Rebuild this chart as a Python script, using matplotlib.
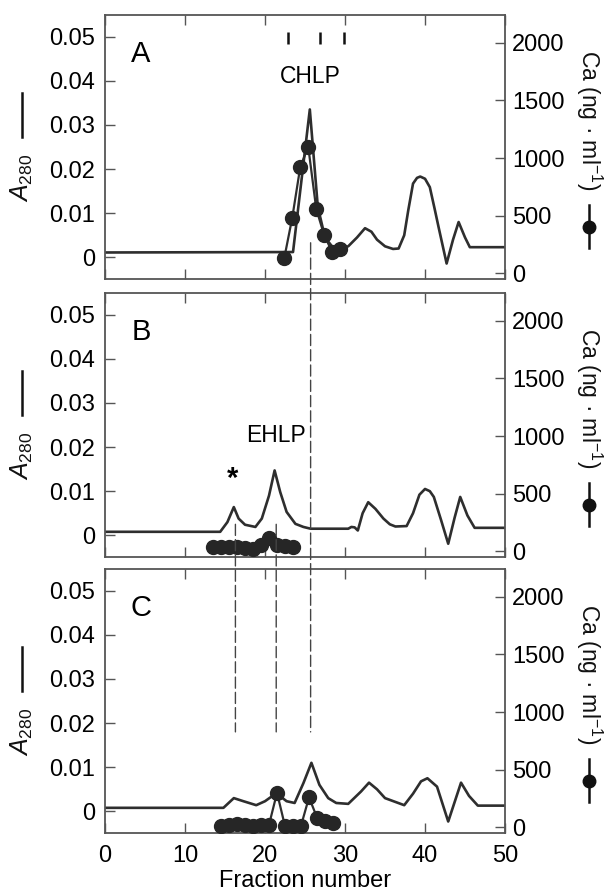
#!/usr/bin/env python3
"""Three stacked elution profiles: A280 trace with Ca content on a twin axis."""

import matplotlib.pyplot as plt
from matplotlib.patches import ConnectionPatch

plt.rcParams["font.family"] = ["Liberation Sans", "DejaVu Sans"]
plt.rcParams["mathtext.fontset"] = "custom"
plt.rcParams["mathtext.rm"] = "Liberation Sans"
plt.rcParams["mathtext.it"] = "Liberation Sans:italic"

# ---- data ------------------------------------------------------------------
# panel A
a280_frac_A = [0, 23.5, 25.6, 26.6, 27.5, 28.5, 29.5, 30.4, 31.5, 32.5, 33.3, 34.0,
               35.0, 36.0, 36.7, 37.4, 37.9, 38.5, 39.0, 39.4, 40.0, 40.6, 41.2, 41.7,
               42.7, 43.5, 44.2, 45.0, 45.6, 50]
a280_A = [0.0011, 0.0012, 0.0335, 0.0114, 0.0045, 0.0022, 0.0021, 0.0025, 0.0045,
          0.0066, 0.0058, 0.0040, 0.0025, 0.0019, 0.0020, 0.0050, 0.0106, 0.0167,
          0.0180, 0.0183, 0.0178, 0.0159, 0.0110, 0.0068, -0.0014, 0.0040, 0.0080,
          0.0045, 0.0023, 0.0023]
ca_frac_A = [22.4, 23.4, 24.4, 25.4, 26.4, 27.4, 28.4, 29.4]
ca_A = [130, 480, 920, 1100, 560, 330, 185, 210]

# panel B
a280_frac_B = [0, 14.4, 15.3, 16.1, 16.7, 17.5, 18.8, 19.6, 20.5, 21.2, 21.9, 22.7,
               23.8, 24.8, 25.7, 30.4, 30.8, 31.2, 31.6, 32.2, 32.9, 33.8, 34.8,
               35.6, 36.3, 37.7, 38.5, 39.3, 40.0, 40.6, 41.1, 42.0, 42.9, 43.7,
               44.4, 45.3, 46.2, 50]
a280_B = [0.0008, 0.0008, 0.0030, 0.0064, 0.0038, 0.0024, 0.0019, 0.0038, 0.0090,
          0.0147, 0.0098, 0.0053, 0.0026, 0.0019, 0.0015, 0.0015, 0.0019, 0.0018,
          0.0011, 0.0050, 0.0075, 0.0060, 0.0038, 0.0025, 0.0020, 0.0021, 0.0050,
          0.0092, 0.0105, 0.0100, 0.0087, 0.0035, -0.0019, 0.0040, 0.0087, 0.0045,
          0.0017, 0.0017]
ca_frac_B = [13.5, 14.5, 15.5, 16.5, 17.5, 18.5, 19.5, 20.5, 21.5, 22.5, 23.5]
ca_B = [38, 38, 38, 35, 30, 20, 55, 115, 55, 42, 38]

# panel C
a280_frac_C = [0, 14.8, 16.1, 17.3, 18.9, 20.0, 21.4, 22.7, 23.7, 24.8, 25.8, 26.8,
               27.9, 28.9, 30.4, 32.0, 33.0, 34.0, 35.0, 37.4, 38.5, 39.5, 40.3,
               41.5, 42.9, 44.5, 45.5, 46.6, 50]
a280_C = [0.0008, 0.0008, 0.0030, 0.0023, 0.0014, 0.0023, 0.0041, 0.0023, 0.0019,
          0.0064, 0.0110, 0.0060, 0.0030, 0.0019, 0.0017, 0.0045, 0.0065, 0.0050,
          0.0030, 0.0014, 0.0040, 0.0068, 0.0075, 0.0056, -0.0023, 0.0065, 0.0035,
          0.0013, 0.0013]
ca_frac_C = [14.5, 15.5, 16.5, 17.5, 18.5, 19.5, 20.5, 21.5, 22.5, 23.5, 24.5, 25.5,
             26.5, 27.5, 28.5]
ca_C = [14, 18, 25, 20, 14, 18, 22, 300, 10, 14, 14, 260, 85, 58, 35]

panel_letters = ["A", "B", "C"]
a280_ticks = [0, 0.01, 0.02, 0.03, 0.04, 0.05]
a280_ticklabels = ["0", "0.01", "0.02", "0.03", "0.04", "0.05"]
ca_ticks = [0, 500, 1000, 1500, 2000]
x_ticks = [0, 10, 20, 30, 40, 50]

chlp_marks = [22.9, 26.9, 29.9]          # fraction markers above CHLP
guide_A = 25.7                            # dashed guide running from A into C
guides_B = [16.3, 21.4]                   # dashed guides running from B into C

INK = "#2e2e2e"
SPINE = "#555555"


def style(ax, ax2):
    for sp in ax.spines.values():
        sp.set_color(SPINE)
        sp.set_linewidth(1.3)
    ax2.spines[:].set_visible(False)
    ax.set_xlim(0, 50)
    ax.set_ylim(-0.0049, 0.0549)
    ax2.set_ylim(-49, 2241)
    ax.set_xticks(x_ticks)
    ax.set_yticks(a280_ticks)
    ax.set_yticklabels(a280_ticklabels)
    ax2.set_yticks(ca_ticks)
    ax.tick_params(axis="both", direction="in", length=7, width=1, color=SPINE,
                   labelsize=17, top=True, bottom=True, right=False)
    ax.tick_params(axis="y", pad=7)
    ax.tick_params(axis="x", pad=9)
    ax2.tick_params(axis="y", direction="in", length=7, width=1, color=SPINE,
                    labelsize=17, pad=5)


def side_labels(ax):
    ax.text(-0.208, 0.385, r"$A_{280}$", rotation=90, transform=ax.transAxes,
            ha="center", va="center", fontsize=18, color="#111111")
    ax.plot([-0.208, -0.208], [0.538, 0.705], transform=ax.transAxes,
            clip_on=False, color="#111111", lw=1.8)
    ax.text(1.21, 0.6, "Ca (ng · ml$^{-1}$)", rotation=270, transform=ax.transAxes,
            ha="center", va="center", fontsize=16.5, color="#111111")
    ax.plot([1.21, 1.21], [0.117, 0.28], transform=ax.transAxes,
            clip_on=False, color="#111111", lw=1.8)
    ax.plot([1.21], [0.197], "o", transform=ax.transAxes, clip_on=False,
            color="#111111", ms=9)


fig = plt.figure(figsize=(6.07, 8.91), dpi=100)
bottoms = [0.6869, 0.3749, 0.0651]
panels = [
    (a280_frac_A, a280_A, ca_frac_A, ca_A),
    (a280_frac_B, a280_B, ca_frac_B, ca_B),
    (a280_frac_C, a280_C, ca_frac_C, ca_C),
]
axes = []
for i, (fx, fy, cx, cy) in enumerate(panels):
    ax = fig.add_axes([0.173, bottoms[i], 0.659, 0.2963])
    ax2 = ax.twinx()
    style(ax, ax2)
    ax.plot(fx, fy, color=INK, lw=1.9, solid_joinstyle="round")
    ax2.plot(cx, cy, color=INK, lw=1.6, marker="o", ms=10,
             markerfacecolor="#262626", markeredgecolor="#262626")
    ax.text(0.09, 0.852, panel_letters[i], transform=ax.transAxes,
            ha="center", va="center", fontsize=21)
    side_labels(ax)
    if i < 2:
        ax.tick_params(axis="x", labelbottom=False)
    axes.append(ax)

axA, axB, axC = axes
axC.set_xlabel("Fraction number", fontsize=17, labelpad=2)

# CHLP annotation with fraction markers
axA.vlines(chlp_marks, 0.0484, 0.0511, color="#111111", lw=1.8)
axA.text(25.6, 0.0409, "CHLP", ha="center", va="center", fontsize=16.5)

# EHLP and asterisk in B
axB.text(21.4, 0.0226, "EHLP", ha="center", va="center", fontsize=16.5)
axB.text(16.0, 0.0128, "*", ha="center", va="center", fontsize=21, fontweight="bold")

# dashed guides crossing the panels
dash = dict(linestyle=(0, (8, 3)), lw=1.0, color="#444444")
fig.add_artist(ConnectionPatch(xyA=(guide_A, 0.0033), coordsA=axA.transData,
                               xyB=(guide_A, 0.018), coordsB=axC.transData, **dash))
for g in guides_B:
    fig.add_artist(ConnectionPatch(xyA=(g, 0.0025), coordsA=axB.transData,
                                   xyB=(g, 0.018), coordsB=axC.transData, **dash))

fig.savefig("out.png", dpi=100, facecolor="white")
plt.close(fig)
